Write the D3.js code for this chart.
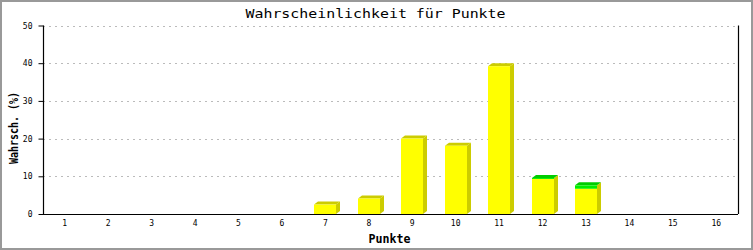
<!DOCTYPE html>
<html>
<head>
<meta charset="utf-8">
<script src="https://cdn.jsdelivr.net/npm/d3@7"></script>
<style>
  body { margin: 0; background: #fff; }
  text { fill: #000; }
</style>
</head>
<body>
<div id="chart"></div>
<script>
// values
const punkte = ["1","2","3","4","5","6","7","8","9","10","11","12","13","14","15","16"];
const gelb   = [0, 0, 0, 0, 0, 0, 2.5, 4.1, 20.0, 18.1, 39.2, 9.3, 6.7, 0, 0, 0];
const gruen  = [0, 0, 0, 0, 0, 0, 0, 0, 0, 0, 0, 0.25, 0.9, 0, 0, 0];
const yTicks = [0, 10, 20, 30, 40, 50];

const W = 753, H = 250;
const m = {left: 43, right: 15, top: 25.5, bottom: 36};

const svg = d3.select("#chart").append("svg")
  .attr("width", W).attr("height", H);

svg.append("rect")
  .attr("x", 1).attr("y", 1).attr("width", W - 2).attr("height", H - 2)
  .attr("fill", "#fff").attr("stroke", "#999").attr("stroke-width", 2);

const x = d3.scaleBand().domain(punkte).range([m.left, W - m.right]).padding(0);
const y = d3.scaleLinear().domain([0, 50]).range([H - m.bottom, m.top]);

// grid
svg.append("g").selectAll("line")
  .data(yTicks.filter(d => d > 0))
  .enter().append("line")
  .attr("x1", m.left).attr("x2", W - m.right)
  .attr("y1", d => Math.round(y(d)) + 0.5).attr("y2", d => Math.round(y(d)) + 0.5)
  .attr("stroke", "#bbb").attr("stroke-dasharray", "2,4");

// bars with 3d shadow
const dx = 4, dy = 3;
const bw = x.bandwidth() * 0.5;
const bars = svg.append("g");
punkte.forEach((p, i) => {
  const total = gelb[i] + gruen[i];
  if (total <= 0) return;
  const x0 = Math.round(x(p) + (x.bandwidth() - bw) / 2);
  const x1 = x0 + Math.round(bw);
  const yb = y(0), yt = y(total), ym = y(gelb[i]);
  // side
  bars.append("polygon")
    .attr("points", [[x1, yt], [x1 + dx, yt - dy], [x1 + dx, yb - dy], [x1, yb]].join(" "))
    .attr("fill", "#cccc00");
  // top
  bars.append("polygon")
    .attr("points", [[x0, yt], [x0 + dx, yt - dy], [x1 + dx, yt - dy], [x1, yt]].join(" "))
    .attr("fill", gruen[i] > 0 ? "#00cc00" : "#cccc00");
  // front
  bars.append("rect")
    .attr("x", x0).attr("y", ym).attr("width", x1 - x0).attr("height", yb - ym)
    .attr("fill", "#ffff00");
  if (gruen[i] > 0) {
    bars.append("rect")
      .attr("x", x0).attr("y", yt).attr("width", x1 - x0).attr("height", ym - yt)
      .attr("fill", "#00ee00");
  }
});

// axes
const yAxis = d3.axisLeft(y).tickValues(yTicks).tickSize(5).tickPadding(6);
const gy = svg.append("g").attr("transform", "translate(" + (m.left + 0.5) + ",0)").call(yAxis);
const xAxis = d3.axisBottom(x).tickSize(0).tickPadding(6);
const gx = svg.append("g").attr("transform", "translate(0," + (Math.round(y(0)) + 0.5) + ")").call(xAxis);
[gx, gy].forEach(g => {
  g.select(".domain").attr("stroke", "#000").attr("stroke-width", 1.2);
  g.selectAll(".tick line").attr("stroke", "#000");
  g.selectAll("text").style("font-family", "DejaVu Sans Mono").style("font-size", "8px").attr("fill", "#000");
});
gy.select(".domain").attr("d", "M0," + y(50) + "V" + y(0));
gx.select(".domain").attr("d", "M" + m.left + ",0H" + (W - m.right));

// right frame line
svg.append("line")
  .attr("x1", W - m.right + 0.5).attr("x2", W - m.right + 0.5)
  .attr("y1", y(50)).attr("y2", y(0))
  .attr("stroke", "#000").attr("stroke-width", 1.2);

// titles
svg.append("text")
  .attr("x", W / 2 - 1).attr("y", 18)
  .attr("text-anchor", "middle")
  .attr("textLength", 260).attr("lengthAdjust", "spacingAndGlyphs")
  .style("font-family", "DejaVu Sans Mono").style("font-size", "13px")
  .text("Wahrscheinlichkeit für Punkte");

svg.append("text")
  .attr("x", (m.left + W - m.right) / 2 - 1).attr("y", 243)
  .attr("text-anchor", "middle")
  .attr("textLength", 42).attr("lengthAdjust", "spacingAndGlyphs")
  .style("font-family", "DejaVu Sans Mono").style("font-weight", "bold").style("font-size", "12px")
  .text("Punkte");

svg.append("text")
  .attr("transform", "translate(18," + 128 + ") rotate(-90)")
  .attr("text-anchor", "middle")
  .attr("textLength", 72).attr("lengthAdjust", "spacingAndGlyphs")
  .style("font-family", "DejaVu Sans Mono").style("font-weight", "bold").style("font-size", "12px")
  .text("Wahrsch. (%)");
</script>
</body>
</html>
